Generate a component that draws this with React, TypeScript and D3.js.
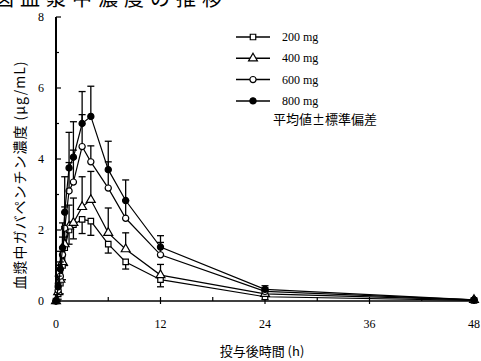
import React, { useEffect, useRef } from "react";
import * as d3 from "d3";

// 投与後時間 (h)
const times = [0, 0.25, 0.5, 0.75, 1, 1.5, 2, 3, 4, 6, 8, 12, 24, 48];

// 平均血漿中濃度 (μg/mL) と標準偏差
const c200 = [0, 0.2, 0.5, 1.0, 1.5, 2.0, 2.15, 2.3, 2.25, 1.6, 1.1, 0.6, 0.12, 0.02];
const sd200 = [0, 0.15, 0.3, 0.4, 0.5, 0.4, 0.4, 0.4, 0.4, 0.25, 0.2, 0.2, 0.08, 0.02];
const c400 = [0, 0.25, 0.6, 1.1, 1.6, 2.1, 2.2, 2.65, 2.85, 1.92, 1.46, 0.73, 0.2, 0.03];
const sd400 = [0, 0.2, 0.3, 0.4, 0.5, 0.6, 0.7, 0.85, 0.8, 0.7, 0.46, 0.3, 0.1, 0.02];
const c600 = [0, 0.3, 0.7, 1.3, 2.05, 3.1, 3.35, 4.35, 3.92, 3.18, 2.33, 1.3, 0.27, 0.03];
const sd600 = [0, 0.2, 0.4, 0.5, 0.6, 0.8, 0.9, 0.9, 0.45, 0.74, 0.5, 0.35, 0.1, 0.02];
const c800 = [0, 0.4, 0.9, 1.5, 2.5, 3.75, 4.05, 5.0, 5.2, 3.7, 2.83, 1.52, 0.33, 0.03];
const sd800 = [0, 0.3, 0.5, 0.7, 1.0, 1.0, 1.0, 0.9, 0.85, 0.8, 0.58, 0.32, 0.1, 0.02];

const doseLabels = ["200 mg", "400 mg", "600 mg", "800 mg"];
const xTicks = [0, 12, 24, 36, 48];
const yTicks = [0, 2, 4, 6, 8];

const series = [
	{ name: doseLabels[0], values: c200, sd: c200.map((_, i) => -sd200[i]), shape: "square", fill: "#fff" },
	{ name: doseLabels[1], values: c400, sd: sd400, shape: "triangle", fill: "#fff" },
	{ name: doseLabels[2], values: c600, sd: sd600, shape: "circle", fill: "#fff" },
	{ name: doseLabels[3], values: c800, sd: sd800, shape: "circle", fill: "#000" },
];

const serif = "'Liberation Serif', 'DejaVu Serif', serif";
const jp = "'Noto Sans CJK JP', sans-serif";

const App: React.FC = () => {
	const ref = useRef<SVGSVGElement>(null);

	useEffect(() => {
		const svg = d3.select(ref.current);
		svg.selectAll("*").remove();

		const x = d3.scaleLinear().domain([0, 48]).range([56, 474]);
		const y = d3.scaleLinear().domain([0, 8]).range([301, 17]);

		const symbolFor = (shape: string) =>
			d3
				.symbol()
				.type(shape === "square" ? d3.symbolSquare : shape === "triangle" ? d3.symbolTriangle : d3.symbolCircle)
				.size(shape === "triangle" ? 34 : 30);

		// タイトル（上端で切れている）
		svg.append("text")
			.attr("x", -6)
			.attr("y", 6)
			.attr("font-family", jp)
			.attr("font-size", 20)
			.attr("letter-spacing", 6)
			.text("図血漿中濃度の推移");

		// 軸
		const axis = svg.append("g").attr("stroke", "#000").attr("fill", "none");
		axis.append("line").attr("x1", x(0)).attr("x2", x(0)).attr("y1", y(8)).attr("y2", y(0)).attr("stroke-width", 2);
		axis.append("line").attr("x1", x(0)).attr("x2", x(48)).attr("y1", y(0)).attr("y2", y(0)).attr("stroke-width", 1.5);

		d3.range(0, 9).forEach((v) => {
			axis.append("line")
				.attr("x1", x(0))
				.attr("x2", x(0) + (v % 2 === 0 ? 5 : 3))
				.attr("y1", y(v))
				.attr("y2", y(v))
				.attr("stroke-width", 1.2);
		});
		d3.range(6, 49, 6).forEach((t) => {
			axis.append("line")
				.attr("x1", x(t))
				.attr("x2", x(t))
				.attr("y1", y(0) + (t % 12 === 0 ? 3 : 0))
				.attr("y2", y(0) - 4)
				.attr("stroke-width", 1.2);
		});

		svg.selectAll("text.xt")
			.data(xTicks)
			.enter()
			.append("text")
			.attr("class", "xt")
			.attr("x", (d) => x(d))
			.attr("y", 328)
			.attr("text-anchor", "middle")
			.attr("font-family", serif)
			.attr("font-size", 12)
			.text((d) => d);

		svg.selectAll("text.yt")
			.data(yTicks)
			.enter()
			.append("text")
			.attr("class", "yt")
			.attr("x", 44)
			.attr("y", (d) => y(d) + 4)
			.attr("text-anchor", "end")
			.attr("font-family", serif)
			.attr("font-size", 12)
			.text((d) => d);

		// 軸ラベル
		svg.append("text")
			.attr("x", 262)
			.attr("y", 356)
			.attr("text-anchor", "middle")
			.attr("font-family", jp)
			.attr("font-size", 13)
			.text("投与後時間 (h)");

		svg.append("text")
			.attr("transform", `translate(25, 175) rotate(-90)`)
			.attr("text-anchor", "middle")
			.attr("font-family", jp)
			.attr("font-size", 14)
			.attr("letter-spacing", 1)
			.text("血漿中ガバペンチン濃度 (μg/mL)");

		const line = d3
			.line<number>()
			.x((_, i) => x(times[i]))
			.y((d) => y(d));

		series.forEach((s) => {
			const g = svg.append("g");
			// 誤差棒
			s.values.forEach((v, i) => {
				if (i === 0 || Math.abs(s.sd[i]) < 0.05) return;
				const end = y(v + s.sd[i]);
				g.append("line")
					.attr("x1", x(times[i]))
					.attr("x2", x(times[i]))
					.attr("y1", y(v))
					.attr("y2", end)
					.attr("stroke", "#000")
					.attr("stroke-width", 1.3);
				g.append("line")
					.attr("x1", x(times[i]) - 3.5)
					.attr("x2", x(times[i]) + 3.5)
					.attr("y1", end)
					.attr("y2", end)
					.attr("stroke", "#000")
					.attr("stroke-width", 1.3);
			});
			g.append("path")
				.datum(s.values)
				.attr("d", line)
				.attr("fill", "none")
				.attr("stroke", "#000")
				.attr("stroke-width", 1.2);
			g.selectAll("path.pt")
				.data(s.values)
				.enter()
				.append("path")
				.attr("class", "pt")
				.attr("d", symbolFor(s.shape) as any)
				.attr("transform", (d, i) => `translate(${x(times[i])},${y(d)})`)
				.attr("fill", s.fill)
				.attr("stroke", "#000")
				.attr("stroke-width", 1.2);
		});

		// 凡例
		const legend = svg.append("g").attr("transform", "translate(236, 37)");
		series.forEach((s, i) => {
			const row = legend.append("g").attr("transform", `translate(0, ${i * 21.3})`);
			row.append("line").attr("x1", 0).attr("x2", 34).attr("stroke", "#000").attr("stroke-width", 1.5);
			row.append("path")
				.attr("d", symbolFor(s.shape) as any)
				.attr("transform", "translate(17,0)")
				.attr("fill", s.fill)
				.attr("stroke", "#000")
				.attr("stroke-width", 1.2);
			row.append("text")
				.attr("x", 46)
				.attr("y", 4)
				.attr("font-family", serif)
				.attr("font-size", 12)
				.text(s.name);
		});
		legend.append("text")
			.attr("x", 37)
			.attr("y", 87)
			.attr("font-family", jp)
			.attr("font-size", 13)
			.text("平均値±標準偏差");
	}, []);

	return (
		<svg
			ref={ref}
			width={481}
			height={361}
			style={{ position: "absolute", left: 0, top: 0, background: "#fff" }}
		/>
	);
};

export default App;
